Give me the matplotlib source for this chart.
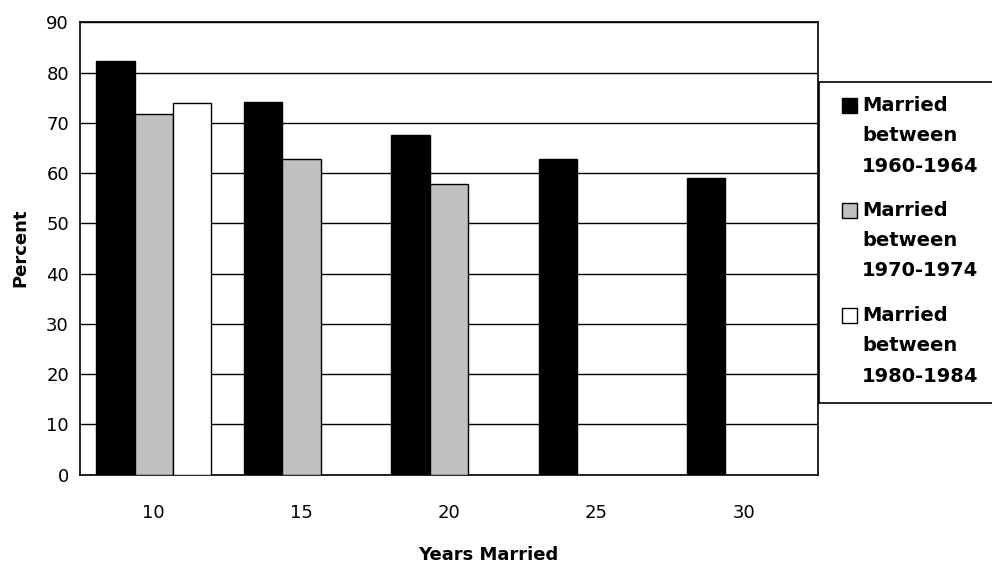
import matplotlib
matplotlib.use("Agg")
import matplotlib.pyplot as plt
from matplotlib.patches import Rectangle
import numpy as np

# Survey data: percent still married, by years married and marriage cohort
years = ["10", "15", "20", "25", "30"]
cohort_labels = [
    "Married\nbetween\n1960-1964",
    "Married\nbetween\n1970-1974",
    "Married\nbetween\n1980-1984",
]
married_1960_64 = [82.3, 74.2, 67.6, 62.7, 59.1]
married_1970_74 = [71.8, 62.7, 57.8, np.nan, np.nan]
married_1980_84 = [73.9, np.nan, np.nan, np.nan, np.nan]
series = [married_1960_64, married_1970_74, married_1980_84]
colors = ["#000000", "#c0c0c0", "#ffffff"]
y_ticks = [0, 10, 20, 30, 40, 50, 60, 70, 80, 90]

W, H = 992, 569
fig = plt.figure(figsize=(W / 100, H / 100), dpi=100)
fig.patch.set_facecolor("white")

ax_l, ax_r, ax_t, ax_b = 80, 818, 22.3, 474.5
ax = fig.add_axes([ax_l / W, 1 - ax_b / H, (ax_r - ax_l) / W, (ax_b - ax_t) / H])

x = np.arange(len(years))
bar_w = 0.26
offsets = np.array([-1, 0, 1]) * bar_w
for vals, col, off in zip(series, colors, offsets):
    v = np.array(vals, dtype=float)
    mask = ~np.isnan(v)
    ax.bar(x[mask] + off, v[mask], width=bar_w, color=col,
           edgecolor="black", linewidth=1.0, zorder=3)

ax.set_xlim(-0.5, len(years) - 0.5)
ax.set_ylim(0, 90)
ax.set_yticks(y_ticks)
ax.set_xticks(x)
ax.set_xticklabels(years)
ax.yaxis.grid(True, color="black", linewidth=1.0, zorder=0)
ax.set_axisbelow(True)
ax.tick_params(axis="x", length=0, pad=21, labelsize=13)
ax.tick_params(axis="y", length=0, pad=8, labelsize=13)
for sp in ax.spines.values():
    sp.set_color("black")
    sp.set_linewidth(1.2)

fig.text(20 / W, 1 - 248 / H, "Percent", rotation=90, ha="center", va="center",
         fontsize=13, fontweight="bold")
fig.text(488 / W, 1 - 555 / H, "Years Married", ha="center", va="center",
         fontsize=13, fontweight="bold")

# Legend panel to the right of the plot
fig.patches.append(Rectangle((819 / W, 1 - 403 / H), (1000 - 819) / W, (403 - 82) / H,
                             transform=fig.transFigure, facecolor="white",
                             edgecolor="black", linewidth=1.2, clip_on=False))
for i, (lab, col) in enumerate(zip(cohort_labels, colors)):
    top = 98 + i * 105
    fig.patches.append(Rectangle((842 / W, 1 - (top + 14.5) / H), 15 / W, 14.5 / H,
                                 transform=fig.transFigure, facecolor=col,
                                 edgecolor="black", linewidth=1.0))
    fig.text(862 / W, 1 - (top - 2) / H, lab, ha="left", va="top",
             fontsize=14, fontweight="bold", linespacing=1.75)

fig.savefig("out.png", dpi=100)
